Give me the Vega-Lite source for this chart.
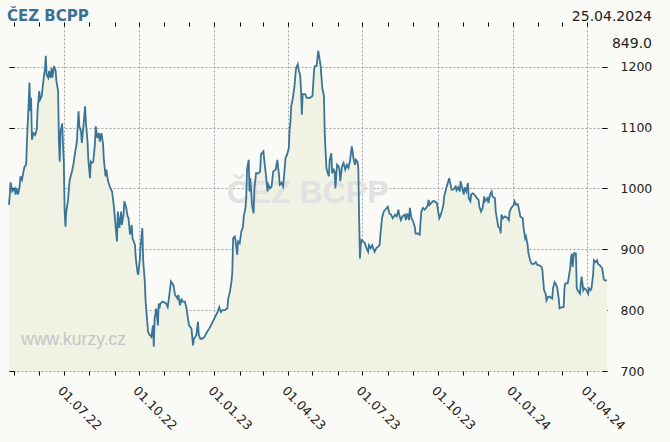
{
  "$schema": "https://vega.github.io/schema/vega-lite/v6.json",
  "description": "ČEZ BCPP share price, 25.04.2022 - 25.04.2024",
  "width": 598,
  "height": 345,
  "autosize": {"type": "none"},
  "padding": {"left": 9, "top": 26, "right": 63, "bottom": 71},
  "background": "#fafaf6",
  "config": {"view": {"stroke": null}},
  "data": {
    "values": [
      {"d": "2022-04-25", "v": 973}, {"d": "2022-04-26", "v": 990}, {"d": "2022-04-27", "v": 1010}, {"d": "2022-04-29", "v": 995},
      {"d": "2022-05-02", "v": 1000}, {"d": "2022-05-03", "v": 990}, {"d": "2022-05-04", "v": 1001}, {"d": "2022-05-06", "v": 990},
      {"d": "2022-05-08", "v": 1003}, {"d": "2022-05-09", "v": 1020}, {"d": "2022-05-11", "v": 1014}, {"d": "2022-05-12", "v": 1023},
      {"d": "2022-05-14", "v": 1036}, {"d": "2022-05-16", "v": 1039}, {"d": "2022-05-17", "v": 1080}, {"d": "2022-05-19", "v": 1138},
      {"d": "2022-05-20", "v": 1174}, {"d": "2022-05-21", "v": 1127}, {"d": "2022-05-22", "v": 1149}, {"d": "2022-05-23", "v": 1080},
      {"d": "2022-05-25", "v": 1091}, {"d": "2022-05-27", "v": 1088}, {"d": "2022-05-29", "v": 1097}, {"d": "2022-05-30", "v": 1130},
      {"d": "2022-06-01", "v": 1160}, {"d": "2022-06-02", "v": 1146}, {"d": "2022-06-04", "v": 1152}, {"d": "2022-06-05", "v": 1165},
      {"d": "2022-06-07", "v": 1187}, {"d": "2022-06-08", "v": 1196}, {"d": "2022-06-09", "v": 1218}, {"d": "2022-06-10", "v": 1187},
      {"d": "2022-06-12", "v": 1182}, {"d": "2022-06-13", "v": 1193}, {"d": "2022-06-15", "v": 1182}, {"d": "2022-06-16", "v": 1198},
      {"d": "2022-06-17", "v": 1182}, {"d": "2022-06-19", "v": 1201}, {"d": "2022-06-21", "v": 1193}, {"d": "2022-06-22", "v": 1176},
      {"d": "2022-06-24", "v": 1160}, {"d": "2022-06-25", "v": 1077}, {"d": "2022-06-26", "v": 1044}, {"d": "2022-06-27", "v": 1094},
      {"d": "2022-06-29", "v": 1107}, {"d": "2022-06-30", "v": 1072}, {"d": "2022-07-01", "v": 1044}, {"d": "2022-07-02", "v": 962},
      {"d": "2022-07-03", "v": 937}, {"d": "2022-07-04", "v": 962}, {"d": "2022-07-06", "v": 979}, {"d": "2022-07-08", "v": 1012},
      {"d": "2022-07-09", "v": 1018}, {"d": "2022-07-11", "v": 1028}, {"d": "2022-07-13", "v": 1042}, {"d": "2022-07-15", "v": 1061},
      {"d": "2022-07-17", "v": 1077}, {"d": "2022-07-19", "v": 1127}, {"d": "2022-07-20", "v": 1102}, {"d": "2022-07-22", "v": 1094},
      {"d": "2022-07-23", "v": 1075}, {"d": "2022-07-25", "v": 1102}, {"d": "2022-07-27", "v": 1135}, {"d": "2022-07-28", "v": 1108},
      {"d": "2022-07-30", "v": 1077}, {"d": "2022-07-31", "v": 1047}, {"d": "2022-08-02", "v": 1017}, {"d": "2022-08-03", "v": 1044},
      {"d": "2022-08-04", "v": 1042}, {"d": "2022-08-06", "v": 1044}, {"d": "2022-08-08", "v": 1072}, {"d": "2022-08-09", "v": 1102},
      {"d": "2022-08-11", "v": 1083}, {"d": "2022-08-13", "v": 1091}, {"d": "2022-08-14", "v": 1077}, {"d": "2022-08-16", "v": 1091},
      {"d": "2022-08-18", "v": 1072}, {"d": "2022-08-19", "v": 1047}, {"d": "2022-08-21", "v": 1020}, {"d": "2022-08-22", "v": 1031},
      {"d": "2022-08-24", "v": 1012}, {"d": "2022-08-27", "v": 1000}, {"d": "2022-08-29", "v": 995}, {"d": "2022-08-31", "v": 973},
      {"d": "2022-09-02", "v": 943}, {"d": "2022-09-04", "v": 913}, {"d": "2022-09-05", "v": 962}, {"d": "2022-09-07", "v": 935},
      {"d": "2022-09-09", "v": 962}, {"d": "2022-09-10", "v": 940}, {"d": "2022-09-12", "v": 957}, {"d": "2022-09-13", "v": 979},
      {"d": "2022-09-15", "v": 970}, {"d": "2022-09-17", "v": 954}, {"d": "2022-09-18", "v": 952}, {"d": "2022-09-20", "v": 924},
      {"d": "2022-09-22", "v": 940}, {"d": "2022-09-23", "v": 918}, {"d": "2022-09-26", "v": 907}, {"d": "2022-09-27", "v": 885},
      {"d": "2022-09-29", "v": 863}, {"d": "2022-09-30", "v": 858}, {"d": "2022-10-02", "v": 885}, {"d": "2022-10-03", "v": 907},
      {"d": "2022-10-05", "v": 935}, {"d": "2022-10-06", "v": 882}, {"d": "2022-10-08", "v": 847}, {"d": "2022-10-09", "v": 814},
      {"d": "2022-10-11", "v": 781}, {"d": "2022-10-12", "v": 764}, {"d": "2022-10-14", "v": 759}, {"d": "2022-10-16", "v": 756},
      {"d": "2022-10-18", "v": 775}, {"d": "2022-10-19", "v": 740}, {"d": "2022-10-20", "v": 786}, {"d": "2022-10-22", "v": 803},
      {"d": "2022-10-24", "v": 775}, {"d": "2022-10-25", "v": 811}, {"d": "2022-10-26", "v": 803}, {"d": "2022-10-27", "v": 811},
      {"d": "2022-10-30", "v": 814}, {"d": "2022-11-03", "v": 811}, {"d": "2022-11-05", "v": 805}, {"d": "2022-11-07", "v": 825},
      {"d": "2022-11-09", "v": 847}, {"d": "2022-11-12", "v": 841}, {"d": "2022-11-14", "v": 825}, {"d": "2022-11-17", "v": 819},
      {"d": "2022-11-18", "v": 825}, {"d": "2022-11-20", "v": 808}, {"d": "2022-11-22", "v": 819}, {"d": "2022-11-23", "v": 814},
      {"d": "2022-11-26", "v": 814}, {"d": "2022-11-28", "v": 803}, {"d": "2022-12-01", "v": 775}, {"d": "2022-12-04", "v": 770},
      {"d": "2022-12-06", "v": 742}, {"d": "2022-12-07", "v": 753}, {"d": "2022-12-10", "v": 759}, {"d": "2022-12-12", "v": 781},
      {"d": "2022-12-13", "v": 759}, {"d": "2022-12-15", "v": 753}, {"d": "2022-12-17", "v": 753}, {"d": "2022-12-20", "v": 756},
      {"d": "2022-12-23", "v": 764}, {"d": "2022-12-26", "v": 770}, {"d": "2022-12-29", "v": 778}, {"d": "2023-01-02", "v": 789},
      {"d": "2023-01-05", "v": 797}, {"d": "2023-01-07", "v": 805}, {"d": "2023-01-09", "v": 797}, {"d": "2023-01-11", "v": 800},
      {"d": "2023-01-14", "v": 800}, {"d": "2023-01-17", "v": 803}, {"d": "2023-01-18", "v": 819}, {"d": "2023-01-20", "v": 830},
      {"d": "2023-01-22", "v": 847}, {"d": "2023-01-23", "v": 863}, {"d": "2023-01-24", "v": 918}, {"d": "2023-01-26", "v": 921},
      {"d": "2023-01-27", "v": 913}, {"d": "2023-01-29", "v": 891}, {"d": "2023-01-30", "v": 913}, {"d": "2023-02-01", "v": 910},
      {"d": "2023-02-03", "v": 929}, {"d": "2023-02-05", "v": 937}, {"d": "2023-02-06", "v": 954}, {"d": "2023-02-08", "v": 968},
      {"d": "2023-02-09", "v": 984}, {"d": "2023-02-10", "v": 1031}, {"d": "2023-02-12", "v": 1047}, {"d": "2023-02-13", "v": 995},
      {"d": "2023-02-14", "v": 1017}, {"d": "2023-02-16", "v": 973}, {"d": "2023-02-18", "v": 959}, {"d": "2023-02-19", "v": 1000},
      {"d": "2023-02-21", "v": 1025}, {"d": "2023-02-24", "v": 1025}, {"d": "2023-02-26", "v": 1028}, {"d": "2023-02-27", "v": 1056},
      {"d": "2023-03-02", "v": 1061}, {"d": "2023-03-03", "v": 1047}, {"d": "2023-03-05", "v": 1023}, {"d": "2023-03-07", "v": 995},
      {"d": "2023-03-08", "v": 1006}, {"d": "2023-03-10", "v": 1000}, {"d": "2023-03-12", "v": 1003}, {"d": "2023-03-14", "v": 1028},
      {"d": "2023-03-17", "v": 1031}, {"d": "2023-03-19", "v": 1047}, {"d": "2023-03-21", "v": 1023}, {"d": "2023-03-22", "v": 1006},
      {"d": "2023-03-24", "v": 1009}, {"d": "2023-03-26", "v": 1003}, {"d": "2023-03-27", "v": 1017}, {"d": "2023-03-29", "v": 1050},
      {"d": "2023-03-31", "v": 1056}, {"d": "2023-04-02", "v": 1066}, {"d": "2023-04-03", "v": 1097}, {"d": "2023-04-04", "v": 1108},
      {"d": "2023-04-05", "v": 1135}, {"d": "2023-04-07", "v": 1149}, {"d": "2023-04-09", "v": 1168}, {"d": "2023-04-10", "v": 1185},
      {"d": "2023-04-11", "v": 1198}, {"d": "2023-04-13", "v": 1204}, {"d": "2023-04-14", "v": 1196}, {"d": "2023-04-16", "v": 1185},
      {"d": "2023-04-17", "v": 1160}, {"d": "2023-04-18", "v": 1121}, {"d": "2023-04-19", "v": 1155}, {"d": "2023-04-22", "v": 1155},
      {"d": "2023-04-24", "v": 1149}, {"d": "2023-04-28", "v": 1149}, {"d": "2023-05-01", "v": 1152}, {"d": "2023-05-03", "v": 1196},
      {"d": "2023-05-04", "v": 1201}, {"d": "2023-05-06", "v": 1201}, {"d": "2023-05-08", "v": 1226}, {"d": "2023-05-09", "v": 1218},
      {"d": "2023-05-11", "v": 1201}, {"d": "2023-05-12", "v": 1182}, {"d": "2023-05-13", "v": 1165}, {"d": "2023-05-15", "v": 1152},
      {"d": "2023-05-16", "v": 1088}, {"d": "2023-05-18", "v": 1034}, {"d": "2023-05-19", "v": 1028}, {"d": "2023-05-21", "v": 1020},
      {"d": "2023-05-22", "v": 1047}, {"d": "2023-05-24", "v": 1058}, {"d": "2023-05-25", "v": 1025}, {"d": "2023-05-27", "v": 1031},
      {"d": "2023-05-28", "v": 1028}, {"d": "2023-05-29", "v": 1000}, {"d": "2023-05-31", "v": 1039}, {"d": "2023-06-02", "v": 1036},
      {"d": "2023-06-03", "v": 1031}, {"d": "2023-06-04", "v": 1012}, {"d": "2023-06-06", "v": 1036}, {"d": "2023-06-08", "v": 1042},
      {"d": "2023-06-10", "v": 1031}, {"d": "2023-06-12", "v": 1039}, {"d": "2023-06-14", "v": 1034}, {"d": "2023-06-16", "v": 1047},
      {"d": "2023-06-18", "v": 1069}, {"d": "2023-06-19", "v": 1061}, {"d": "2023-06-20", "v": 1050}, {"d": "2023-06-22", "v": 1039},
      {"d": "2023-06-23", "v": 1047}, {"d": "2023-06-25", "v": 1044}, {"d": "2023-06-26", "v": 1034}, {"d": "2023-06-27", "v": 951},
      {"d": "2023-06-28", "v": 885}, {"d": "2023-06-29", "v": 907}, {"d": "2023-06-30", "v": 915}, {"d": "2023-07-02", "v": 913},
      {"d": "2023-07-04", "v": 910}, {"d": "2023-07-06", "v": 902}, {"d": "2023-07-08", "v": 896}, {"d": "2023-07-09", "v": 907},
      {"d": "2023-07-11", "v": 902}, {"d": "2023-07-13", "v": 907}, {"d": "2023-07-14", "v": 902}, {"d": "2023-07-16", "v": 896},
      {"d": "2023-07-18", "v": 902}, {"d": "2023-07-20", "v": 904}, {"d": "2023-07-22", "v": 907}, {"d": "2023-07-23", "v": 924},
      {"d": "2023-07-25", "v": 951}, {"d": "2023-07-27", "v": 962}, {"d": "2023-07-29", "v": 965}, {"d": "2023-08-01", "v": 970},
      {"d": "2023-08-03", "v": 959}, {"d": "2023-08-05", "v": 957}, {"d": "2023-08-07", "v": 951}, {"d": "2023-08-10", "v": 957},
      {"d": "2023-08-12", "v": 954}, {"d": "2023-08-14", "v": 965}, {"d": "2023-08-15", "v": 957}, {"d": "2023-08-17", "v": 948},
      {"d": "2023-08-19", "v": 954}, {"d": "2023-08-22", "v": 957}, {"d": "2023-08-23", "v": 948}, {"d": "2023-08-25", "v": 959},
      {"d": "2023-08-27", "v": 948}, {"d": "2023-08-28", "v": 968}, {"d": "2023-08-30", "v": 951}, {"d": "2023-09-01", "v": 946},
      {"d": "2023-09-03", "v": 937}, {"d": "2023-09-04", "v": 926}, {"d": "2023-09-07", "v": 926}, {"d": "2023-09-09", "v": 924},
      {"d": "2023-09-10", "v": 943}, {"d": "2023-09-11", "v": 962}, {"d": "2023-09-13", "v": 968}, {"d": "2023-09-15", "v": 965},
      {"d": "2023-09-17", "v": 968}, {"d": "2023-09-19", "v": 973}, {"d": "2023-09-20", "v": 981}, {"d": "2023-09-21", "v": 973},
      {"d": "2023-09-23", "v": 976}, {"d": "2023-09-25", "v": 979}, {"d": "2023-09-27", "v": 979}, {"d": "2023-09-30", "v": 976},
      {"d": "2023-10-01", "v": 968}, {"d": "2023-10-03", "v": 951}, {"d": "2023-10-04", "v": 954}, {"d": "2023-10-06", "v": 962},
      {"d": "2023-10-08", "v": 973}, {"d": "2023-10-09", "v": 987}, {"d": "2023-10-11", "v": 998}, {"d": "2023-10-12", "v": 1003},
      {"d": "2023-10-14", "v": 1012}, {"d": "2023-10-15", "v": 1017}, {"d": "2023-10-18", "v": 998}, {"d": "2023-10-20", "v": 998},
      {"d": "2023-10-23", "v": 1003}, {"d": "2023-10-24", "v": 997}, {"d": "2023-10-26", "v": 1002}, {"d": "2023-10-28", "v": 995},
      {"d": "2023-10-29", "v": 1012}, {"d": "2023-11-01", "v": 995}, {"d": "2023-11-02", "v": 990}, {"d": "2023-11-03", "v": 1002},
      {"d": "2023-11-05", "v": 995}, {"d": "2023-11-07", "v": 1009}, {"d": "2023-11-08", "v": 984}, {"d": "2023-11-10", "v": 979},
      {"d": "2023-11-11", "v": 990}, {"d": "2023-11-13", "v": 992}, {"d": "2023-11-15", "v": 990}, {"d": "2023-11-18", "v": 984},
      {"d": "2023-11-20", "v": 981}, {"d": "2023-11-21", "v": 970}, {"d": "2023-11-23", "v": 962}, {"d": "2023-11-25", "v": 968},
      {"d": "2023-11-27", "v": 987}, {"d": "2023-11-28", "v": 979}, {"d": "2023-12-01", "v": 984}, {"d": "2023-12-02", "v": 976},
      {"d": "2023-12-04", "v": 990}, {"d": "2023-12-06", "v": 995}, {"d": "2023-12-07", "v": 987}, {"d": "2023-12-10", "v": 984},
      {"d": "2023-12-11", "v": 962}, {"d": "2023-12-13", "v": 946}, {"d": "2023-12-14", "v": 937}, {"d": "2023-12-16", "v": 935},
      {"d": "2023-12-17", "v": 926}, {"d": "2023-12-18", "v": 957}, {"d": "2023-12-20", "v": 951}, {"d": "2023-12-22", "v": 954},
      {"d": "2023-12-25", "v": 952}, {"d": "2023-12-27", "v": 948}, {"d": "2023-12-28", "v": 962}, {"d": "2023-12-30", "v": 968},
      {"d": "2024-01-02", "v": 973}, {"d": "2024-01-03", "v": 979}, {"d": "2024-01-05", "v": 973}, {"d": "2024-01-07", "v": 974},
      {"d": "2024-01-09", "v": 962}, {"d": "2024-01-10", "v": 954}, {"d": "2024-01-13", "v": 951}, {"d": "2024-01-14", "v": 935},
      {"d": "2024-01-16", "v": 918}, {"d": "2024-01-17", "v": 921}, {"d": "2024-01-19", "v": 907}, {"d": "2024-01-20", "v": 893},
      {"d": "2024-01-22", "v": 882}, {"d": "2024-01-24", "v": 876}, {"d": "2024-01-27", "v": 876}, {"d": "2024-01-29", "v": 879},
      {"d": "2024-01-31", "v": 874}, {"d": "2024-02-02", "v": 874}, {"d": "2024-02-05", "v": 871}, {"d": "2024-02-06", "v": 866},
      {"d": "2024-02-08", "v": 833}, {"d": "2024-02-10", "v": 827}, {"d": "2024-02-11", "v": 816}, {"d": "2024-02-13", "v": 822},
      {"d": "2024-02-15", "v": 822}, {"d": "2024-02-18", "v": 819}, {"d": "2024-02-19", "v": 836}, {"d": "2024-02-21", "v": 846},
      {"d": "2024-02-22", "v": 844}, {"d": "2024-02-24", "v": 838}, {"d": "2024-02-26", "v": 819}, {"d": "2024-02-27", "v": 803},
      {"d": "2024-03-01", "v": 805}, {"d": "2024-03-03", "v": 805}, {"d": "2024-03-04", "v": 836}, {"d": "2024-03-05", "v": 844},
      {"d": "2024-03-08", "v": 844}, {"d": "2024-03-09", "v": 852}, {"d": "2024-03-11", "v": 869}, {"d": "2024-03-12", "v": 885},
      {"d": "2024-03-13", "v": 893}, {"d": "2024-03-14", "v": 871}, {"d": "2024-03-15", "v": 887}, {"d": "2024-03-16", "v": 894},
      {"d": "2024-03-18", "v": 893}, {"d": "2024-03-19", "v": 836}, {"d": "2024-03-20", "v": 833}, {"d": "2024-03-23", "v": 827},
      {"d": "2024-03-24", "v": 844}, {"d": "2024-03-25", "v": 855}, {"d": "2024-03-27", "v": 833}, {"d": "2024-03-28", "v": 836},
      {"d": "2024-03-31", "v": 833}, {"d": "2024-04-02", "v": 827}, {"d": "2024-04-03", "v": 836}, {"d": "2024-04-05", "v": 833},
      {"d": "2024-04-06", "v": 836}, {"d": "2024-04-08", "v": 858}, {"d": "2024-04-09", "v": 882}, {"d": "2024-04-11", "v": 879},
      {"d": "2024-04-13", "v": 882}, {"d": "2024-04-14", "v": 876}, {"d": "2024-04-16", "v": 874}, {"d": "2024-04-18", "v": 871},
      {"d": "2024-04-19", "v": 869}, {"d": "2024-04-21", "v": 852}, {"d": "2024-04-22", "v": 849}, {"d": "2024-04-25", "v": 849}
    ]
  },
  "layer": [
    {
      "mark": {"type": "area", "color": "#f0f2e4", "opacity": 1},
      "encoding": {
        "x": {
          "field": "d",
          "type": "temporal",
          "scale": {
            "type": "utc",
            "domain": [
              {"year": 2022, "month": 4, "date": 25, "utc": true},
              {"year": 2024, "month": 4, "date": 25, "utc": true}
            ]
          },
          "axis": {
            "orient": "bottom",
            "title": null,
            "values": [
              {"year": 2022, "month": 5, "date": 1, "utc": true}, {"year": 2022, "month": 6, "date": 1, "utc": true},
              {"year": 2022, "month": 7, "date": 1, "utc": true}, {"year": 2022, "month": 8, "date": 1, "utc": true},
              {"year": 2022, "month": 9, "date": 1, "utc": true}, {"year": 2022, "month": 10, "date": 1, "utc": true},
              {"year": 2022, "month": 11, "date": 1, "utc": true}, {"year": 2022, "month": 12, "date": 1, "utc": true},
              {"year": 2023, "month": 1, "date": 1, "utc": true}, {"year": 2023, "month": 2, "date": 1, "utc": true},
              {"year": 2023, "month": 3, "date": 1, "utc": true}, {"year": 2023, "month": 4, "date": 1, "utc": true},
              {"year": 2023, "month": 5, "date": 1, "utc": true}, {"year": 2023, "month": 6, "date": 1, "utc": true},
              {"year": 2023, "month": 7, "date": 1, "utc": true}, {"year": 2023, "month": 8, "date": 1, "utc": true},
              {"year": 2023, "month": 9, "date": 1, "utc": true}, {"year": 2023, "month": 10, "date": 1, "utc": true},
              {"year": 2023, "month": 11, "date": 1, "utc": true}, {"year": 2023, "month": 12, "date": 1, "utc": true},
              {"year": 2024, "month": 1, "date": 1, "utc": true}, {"year": 2024, "month": 2, "date": 1, "utc": true},
              {"year": 2024, "month": 3, "date": 1, "utc": true}, {"year": 2024, "month": 4, "date": 1, "utc": true}
            ],
            "labelExpr": "utcmonth(datum.value) % 3 == 0 ? utcFormat(datum.value, '%d.%m.%y') : ''",
            "labelAngle": 45,
            "labelAlign": "left",
            "labelBaseline": "top",
            "labelFont": "DejaVu Sans",
            "labelFontSize": 12.5,
            "labelColor": "#222222",
            "labelPadding": 9,
            "labelOverlap": false,
            "labelFlush": false,
            "labelBound": false,
            "domain": false,
            "tickSize": 4,
            "tickColor": "#000000",
            "grid": true,
            "gridColor": "#a0a0a0",
            "gridDash": [2, 2],
            "gridOpacity": {"condition": {"test": "utcmonth(datum.value) % 3 == 0", "value": 1}, "value": 0}
          }
        },
        "y": {
          "field": "v",
          "type": "quantitative",
          "scale": {"domain": [700, 1267], "zero": false, "nice": false},
          "axis": {
            "orient": "right",
            "title": null,
            "values": [700, 800, 900, 1000, 1100, 1200],
            "format": "d",
            "offset": -5,
            "tickSize": 5,
            "tickColor": "#000000",
            "domain": false,
            "labelPadding": 13,
            "labelFont": "DejaVu Sans",
            "labelFontSize": 12.5,
            "labelColor": "#222222",
            "labelBound": false,
            "labelFlush": false,
            "grid": true,
            "gridColor": "#a0a0a0",
            "gridDash": [2, 2]
          }
        },
        "y2": {"datum": 700}
      }
    },
    {
      "data": {"values": [{}]},
      "mark": {
        "type": "text",
        "text": "ČEZ BCPP",
        "font": "Liberation Sans",
        "fontWeight": "bold",
        "fontSize": 32,
        "color": "#e1e1e1",
        "align": "center",
        "baseline": "alphabetic"
      },
      "encoding": {
        "x": {"datum": {"year": 2023, "month": 4, "date": 25, "utc": true}, "type": "temporal", "axis": null},
        "y": {"datum": 976, "type": "quantitative", "axis": null}
      }
    },
    {
      "data": {"values": [{}]},
      "mark": {
        "type": "text",
        "text": "www.kurzy.cz",
        "font": "Liberation Sans",
        "fontSize": 17.5,
        "color": "#c5c5c5",
        "align": "left",
        "baseline": "alphabetic"
      },
      "encoding": {
        "x": {"datum": {"year": 2022, "month": 5, "date": 10, "utc": true}, "type": "temporal", "axis": null},
        "y": {"datum": 743, "type": "quantitative", "axis": null}
      }
    },
    {
      "mark": {"type": "line", "color": "#3a7597", "strokeWidth": 1.8},
      "encoding": {
        "x": {
          "field": "d",
          "type": "temporal",
          "axis": {
            "orient": "top",
            "title": null,
            "values": [
              {"year": 2022, "month": 5, "date": 1, "utc": true}, {"year": 2022, "month": 6, "date": 1, "utc": true},
              {"year": 2022, "month": 7, "date": 1, "utc": true}, {"year": 2022, "month": 8, "date": 1, "utc": true},
              {"year": 2022, "month": 9, "date": 1, "utc": true}, {"year": 2022, "month": 10, "date": 1, "utc": true},
              {"year": 2022, "month": 11, "date": 1, "utc": true}, {"year": 2022, "month": 12, "date": 1, "utc": true},
              {"year": 2023, "month": 1, "date": 1, "utc": true}, {"year": 2023, "month": 2, "date": 1, "utc": true},
              {"year": 2023, "month": 3, "date": 1, "utc": true}, {"year": 2023, "month": 4, "date": 1, "utc": true},
              {"year": 2023, "month": 5, "date": 1, "utc": true}, {"year": 2023, "month": 6, "date": 1, "utc": true},
              {"year": 2023, "month": 7, "date": 1, "utc": true}, {"year": 2023, "month": 8, "date": 1, "utc": true},
              {"year": 2023, "month": 9, "date": 1, "utc": true}, {"year": 2023, "month": 10, "date": 1, "utc": true},
              {"year": 2023, "month": 11, "date": 1, "utc": true}, {"year": 2023, "month": 12, "date": 1, "utc": true},
              {"year": 2024, "month": 1, "date": 1, "utc": true}, {"year": 2024, "month": 2, "date": 1, "utc": true},
              {"year": 2024, "month": 3, "date": 1, "utc": true}, {"year": 2024, "month": 4, "date": 1, "utc": true}
            ],
            "labels": false,
            "domain": false,
            "grid": false,
            "tickSize": 4,
            "tickColor": "#000000"
          }
        },
        "y": {
          "field": "v",
          "type": "quantitative",
          "axis": {
            "orient": "left",
            "title": null,
            "values": [700, 800, 900, 1000, 1100, 1200],
            "labels": false,
            "domain": false,
            "grid": false,
            "offset": -5,
            "tickSize": 5,
            "tickColor": "#000000"
          }
        }
      }
    },
    {
      "data": {"values": [{}]},
      "mark": {
        "type": "text",
        "text": "ČEZ BCPP",
        "font": "DejaVu Sans",
        "fontSize": 15,
        "fontWeight": "bold",
        "color": "#3b7194",
        "align": "left",
        "baseline": "alphabetic",
        "dx": -2
      },
      "encoding": {
        "x": {"datum": {"year": 2022, "month": 4, "date": 25, "utc": true}, "type": "temporal", "axis": null},
        "y": {"datum": 1276, "type": "quantitative", "axis": null}
      }
    },
    {
      "data": {"values": [{}]},
      "mark": {
        "type": "text",
        "text": "25.04.2024",
        "font": "DejaVu Sans",
        "fontSize": 14,
        "color": "#222222",
        "align": "right",
        "baseline": "alphabetic",
        "dx": 45
      },
      "encoding": {
        "x": {"datum": {"year": 2024, "month": 4, "date": 25, "utc": true}, "type": "temporal", "axis": null},
        "y": {"datum": 1276, "type": "quantitative", "axis": null}
      }
    },
    {
      "data": {"values": [{}]},
      "mark": {
        "type": "text",
        "text": "849.0",
        "font": "DejaVu Sans",
        "fontSize": 14,
        "color": "#222222",
        "align": "right",
        "baseline": "alphabetic",
        "dx": 45
      },
      "encoding": {
        "x": {"datum": {"year": 2024, "month": 4, "date": 25, "utc": true}, "type": "temporal", "axis": null},
        "y": {"datum": 1231, "type": "quantitative", "axis": null}
      }
    }
  ],
  "resolve": {"axis": {"x": "independent", "y": "independent"}}
}
